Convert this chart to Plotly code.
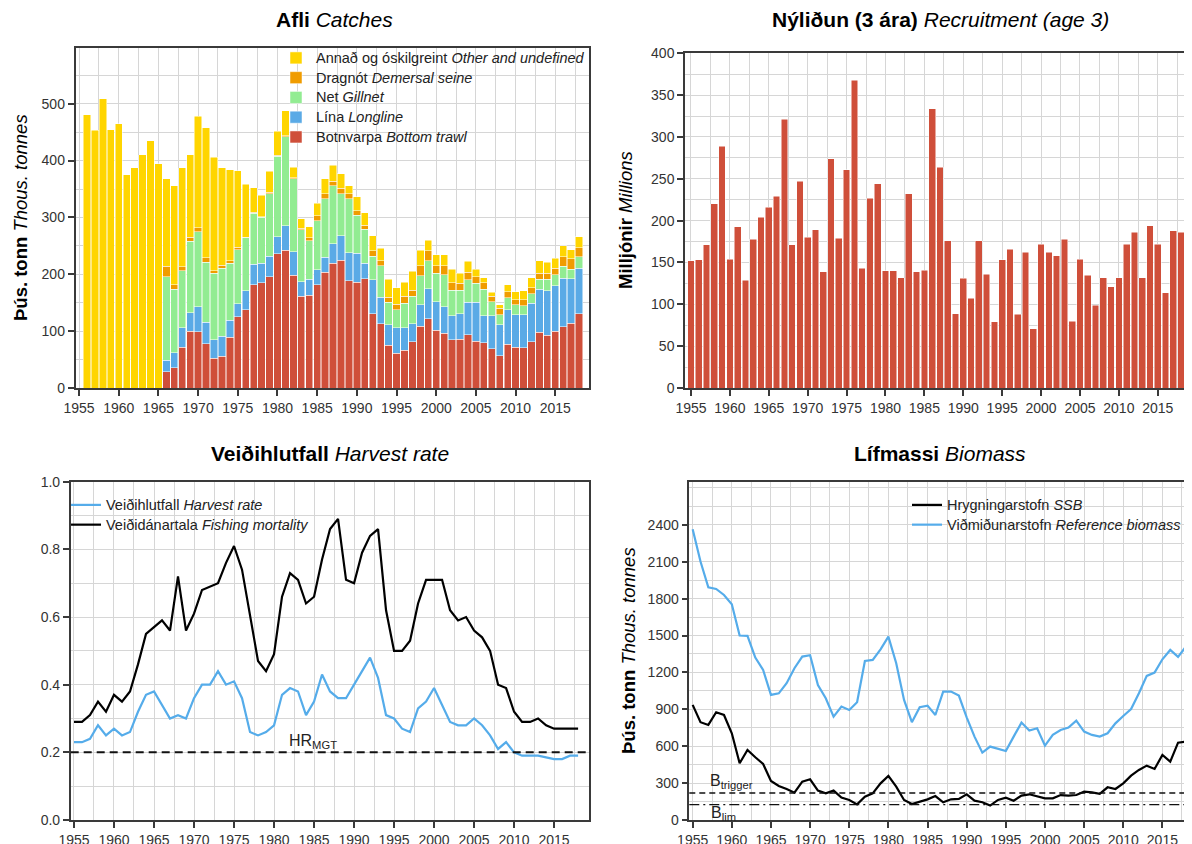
import plotly.graph_objects as go

FONT = "Liberation Sans, Arial, Helvetica, sans-serif"

# ---------------- Catches (thous. tonnes) ----------------
catch_years = list(range(1956, 2019))
_pre = [None] * 10  # 1956-1965: gear split not available
trawl = _pre + [29, 36, 72, 100, 99, 78, 52, 56, 89, 125,
                138, 182, 185, 196, 236, 242, 198, 161, 163, 182,
                204, 219, 225, 189, 186, 192, 131, 113, 75, 61,
                66, 81, 109, 122, 102, 96, 85, 86, 94, 82,
                80, 69, 57, 77, 72, 71, 81, 98, 93, 100,
                108, 114, 131]
longline = _pre + [20, 26, 34, 32, 44, 38, 33, 35, 30, 23,
                   33, 36, 34, 36, 30, 43, 42, 26, 28, 26,
                   26, 35, 43, 49, 51, 27, 59, 47, 36, 45,
                   40, 32, 37, 53, 50, 47, 42, 45, 57, 69,
                   47, 58, 54, 61, 57, 58, 68, 76, 78, 80,
                   85, 78, 80]
gillnet = _pre + [147, 112, 100, 126, 132, 105, 117, 120, 100, 95,
                  93, 89, 81, 110, 142, 157, 128, 91, 68, 86,
                  103, 102, 74, 95, 67, 60, 42, 55, 40, 32,
                  43, 48, 51, 49, 50, 56, 45, 41, 39, 33,
                  47, 25, 18, 21, 17, 16, 17, 17, 20, 19,
                  21, 17, 20]
seine = _pre + [18, 8, 7, 7, 7, 8, 4, 5, 5, 5,
                1, 2, 1, 2, 1, 2, 2, 3, 5, 9,
                9, 8, 9, 9, 8, 7, 9, 9, 9, 9,
                12, 11, 18, 17, 13, 16, 13, 12, 14, 12,
                11, 9, 11, 10, 9, 10, 10, 11, 11, 12,
                17, 18, 16]
other = [481, 453, 509, 454, 465, 375, 387, 410, 435, 394,
         154, 174, 174, 145, 196, 229, 200, 171, 160, 134,
         93, 43, 38, 37, 43, 44, 18, 17, 20, 22,
         26, 28, 26, 14, 24, 22, 27, 22, 31, 29,
         25, 33, 27, 19, 19, 19, 24, 18, 19, 13,
         9, 7, 6, 13, 14, 16, 18, 22, 19, 17,
         19, 16, 19]

# ---------------- Recruitment (millions, age 3) ----------------
rec_years = list(range(1955, 2020))
recruitment = [152, 153, 171, 220, 289, 154, 193, 129, 178, 204,
               216, 229, 321, 171, 247, 180, 189, 139, 274, 179,
               261, 368, 143, 227, 244, 140, 140, 132, 232, 139,
               141, 334, 264, 176, 89, 131, 107, 176, 136, 79,
               153, 166, 88, 162, 71, 172, 162, 158, 178, 80,
               154, 135, 99, 132, 121, 132, 172, 186, 132, 194,
               172, 114, 188, 186, 131]

# ---------------- Harvest rate / fishing mortality ----------------
hr_years = list(range(1955, 2019))
harvest_rate = [0.23, 0.23, 0.24, 0.28, 0.25, 0.27, 0.25, 0.26, 0.32, 0.37,
                0.38, 0.34, 0.30, 0.31, 0.30, 0.36, 0.40, 0.40, 0.44, 0.40,
                0.41, 0.36, 0.26, 0.25, 0.26, 0.28, 0.37, 0.39, 0.38, 0.31,
                0.35, 0.43, 0.38, 0.36, 0.36, 0.40, 0.44, 0.48, 0.42, 0.31,
                0.30, 0.27, 0.26, 0.33, 0.35, 0.39, 0.34, 0.29, 0.28, 0.28,
                0.30, 0.28, 0.25, 0.21, 0.23, 0.20, 0.19, 0.19, 0.19, 0.185,
                0.18, 0.18, 0.19, 0.19]
fishing_mortality = [0.29, 0.29, 0.31, 0.35, 0.32, 0.37, 0.35, 0.38, 0.46, 0.55,
                     0.57, 0.59, 0.56, 0.72, 0.56, 0.61, 0.68, 0.69, 0.70, 0.76,
                     0.81, 0.74, 0.60, 0.47, 0.44, 0.49, 0.66, 0.73, 0.71, 0.64,
                     0.66, 0.77, 0.86, 0.89, 0.71, 0.70, 0.79, 0.84, 0.86, 0.62,
                     0.50, 0.50, 0.53, 0.64, 0.71, 0.71, 0.71, 0.62, 0.59, 0.60,
                     0.56, 0.54, 0.50, 0.40, 0.39, 0.32, 0.29, 0.29, 0.30, 0.28,
                     0.27, 0.27, 0.27, 0.27]
HR_MGT = 0.20

# ---------------- Biomass (thous. tonnes) ----------------
bio_years = list(range(1955, 2020))
ref_biomass = [2365, 2102, 1893, 1879, 1830, 1755, 1500, 1497, 1321, 1220,
               1017, 1030, 1112, 1234, 1329, 1340, 1098, 990, 841, 922,
               895, 957, 1293, 1302, 1388, 1491, 1275, 976, 795, 917,
               930, 854, 1044, 1044, 1012, 835, 678, 548, 597, 578,
               561, 678, 792, 727, 746, 605, 692, 732, 751, 808,
               719, 692, 678, 705, 786, 846, 903, 1031, 1172, 1199,
               1307, 1383, 1326, 1410, 1400]
ssb = [936, 795, 773, 876, 854, 705, 461, 569, 510, 456,
       317, 277, 252, 222, 312, 331, 239, 217, 239, 182,
       163, 127, 190, 217, 298, 358, 271, 163, 130, 149,
       168, 195, 144, 168, 171, 209, 157, 144, 117, 163,
       182, 157, 198, 209, 190, 176, 176, 203, 198, 203,
       230, 225, 212, 266, 252, 298, 361, 407, 442, 415,
       529, 475, 629, 637, 618]
B_TRIGGER = 220
B_LIM = 125

# ---------------- colours ----------------
C_TRAWL = "#CF4F3A"
C_LONG = "#5AAAE6"
C_GILL = "#92EC92"
C_SEINE = "#F09C00"
C_OTHER = "#FFD500"
C_BLUE = "#55ACEA"

# the page places the figure 8px in from the window's top-left corner
OFF = 8
W, H = 1192 - OFF, 844 - OFF


def px_x(p):
    return (p - OFF) / W


def px_y(p):
    return 1 - (p - OFF) / H


def leg(txt):
    # legend text drawn a little larger than the row spacing font
    return '<span style="font-size:14.5px">' + txt + "</span>"


fig = go.Figure()

gear = [
    ("Botnvarpa <i>Bottom trawl</i>", trawl, C_TRAWL),
    ("Lína <i>Longline</i>", longline, C_LONG),
    ("Net <i>Gillnet</i>", gillnet, C_GILL),
    ("Dragnót <i>Demersal seine</i>", seine, C_SEINE),
    ("Annað og óskilgreint <i>Other and undefined</i>", other, C_OTHER),
]
for name, vals, col in gear:
    fig.add_trace(go.Bar(
        x=catch_years, y=vals, name=leg(name), width=0.92,
        marker=dict(color=col, line=dict(color="white", width=0.5)),
        xaxis="x", yaxis="y", legend="legend",
    ))

fig.add_trace(go.Bar(
    x=rec_years, y=recruitment, width=0.86, showlegend=False,
    marker=dict(color=C_TRAWL, line=dict(color="white", width=0.5)),
    xaxis="x2", yaxis="y2",
))

fig.add_trace(go.Scatter(
    x=hr_years, y=harvest_rate, mode="lines", name=leg("Veiðihlutfall <i>Harvest rate</i>"),
    line=dict(color=C_BLUE, width=2.2), xaxis="x3", yaxis="y3", legend="legend2",
))
fig.add_trace(go.Scatter(
    x=hr_years, y=fishing_mortality, mode="lines",
    name=leg("Veiðidánartala <i>Fishing mortality</i>"),
    line=dict(color="black", width=2.2), xaxis="x3", yaxis="y3", legend="legend2",
))

fig.add_trace(go.Scatter(
    x=bio_years, y=ssb, mode="lines", name=leg("Hrygningarstofn <i>SSB</i>"),
    line=dict(color="black", width=2.2), xaxis="x4", yaxis="y4", legend="legend3",
))
fig.add_trace(go.Scatter(
    x=bio_years, y=ref_biomass, mode="lines",
    name=leg("Viðmiðunarstofn <i>Reference biomass</i>"),
    line=dict(color=C_BLUE, width=2.2), xaxis="x4", yaxis="y4", legend="legend3",
))

GRID = "#d6d6d6"
AXC = "#3a3a3a"
TICKF = dict(family=FONT, size=14, color="#333333")
LEGF = dict(family=FONT, size=12.9, color="#222222")


def xax(dom_px, rng, anchor, mirror=True):
    return dict(
        domain=[px_x(dom_px[0]), min(1.0, px_x(dom_px[1]))], range=rng, anchor=anchor,
        automargin=False,
        tick0=1955, dtick=5, ticks="outside", ticklen=6, tickwidth=2, tickcolor=AXC,
        showline=True, linecolor=AXC, linewidth=1.5, mirror=mirror,
        showgrid=True, gridcolor=GRID, gridwidth=1.2, zeroline=False,
        minor=dict(dtick=2.5, tick0=1955, showgrid=True, gridcolor=GRID, gridwidth=1.2),
        tickfont=TICKF,
    )


def yax(dom_px, rng, anchor, dtick, minor, mirror=True, tickvals=None, fmt=None):
    d = dict(
        domain=[px_y(dom_px[1]), px_y(dom_px[0])], range=rng, anchor=anchor,
        automargin=False,
        dtick=dtick, ticks="outside", ticklen=6, tickwidth=1.5, tickcolor=AXC,
        showline=True, linecolor=AXC, linewidth=1.5, mirror=mirror,
        showgrid=True, gridcolor=GRID, gridwidth=1.2, zeroline=False,
        minor=dict(dtick=minor, tick0=0, showgrid=True, gridcolor=GRID, gridwidth=1.2),
        tickfont=TICKF,
    )
    if tickvals is not None:
        d["tickvals"] = tickvals
        d["tickmode"] = "array"
    if fmt:
        d["tickformat"] = fmt
    return d


fig.update_layout(
    template="none",
    width=W, height=H,
    margin=dict(l=0, r=0, t=0, b=0, autoexpand=False),
    paper_bgcolor="white", plot_bgcolor="white",
    font=dict(family=FONT, size=13, color="#222222"),
    barmode="stack",
    xaxis=xax((75.5, 589), [1954.55, 2019.25], "y"),
    yaxis=yax((48, 388), [0, 598], "x", 100, 50),
    xaxis2=xax((685, 1192), [1954.23, 2019.4], "y2"),
    yaxis2=yax((53.3, 388), [0, 400], "x2", 50, 25, mirror=False),
    xaxis3=xax((70.7, 589.3), [1954.59, 2019.4], "y3"),
    yaxis3=yax((481.7, 820), [0, 1.0], "x3", 0.2, 0.1, fmt=".1f"),
    xaxis4=xax((689.3, 1192), [1954.57, 2018.78], "y4"),
    yaxis4=yax((482.3, 820), [0, 2746], "x4", 300, 150, mirror=False,
               tickvals=[0, 300, 600, 900, 1200, 1500, 1800, 2100, 2400]),
    legend=dict(x=px_x(276), y=px_y(43), xanchor="left", yanchor="top",
                bgcolor="rgba(0,0,0,0)", traceorder="reversed", tracegroupgap=0,
                font=LEGF),
    legend2=dict(x=px_x(66), y=px_y(490), xanchor="left", yanchor="top",
                 bgcolor="rgba(0,0,0,0)", traceorder="normal", font=LEGF),
    legend3=dict(x=px_x(907), y=px_y(490), xanchor="left", yanchor="top",
                 bgcolor="rgba(0,0,0,0)", traceorder="normal", font=LEGF),
)

# reference lines
fig.add_shape(type="line", xref="x3 domain", yref="y3", x0=0, x1=1, y0=HR_MGT, y1=HR_MGT,
              line=dict(color="#111111", width=2, dash="8px,5px"))
fig.add_shape(type="line", xref="x4 domain", yref="y4", x0=0, x1=1, y0=B_TRIGGER, y1=B_TRIGGER,
              line=dict(color="#111111", width=1.4, dash="6px,4px"))
fig.add_shape(type="line", xref="x4 domain", yref="y4", x0=0, x1=1, y0=B_LIM, y1=B_LIM,
              line=dict(color="#111111", width=1.4, dash="10px,4px,2px,4px"))

TF = dict(family=FONT, size=21, color="black")
ann = [
    dict(text="<b>Afli</b> <i>Catches</i>", x=px_x(334), y=px_y(20)),
    dict(text="<b>Nýliðun (3 ára)</b> <i>Recruitment (age 3)</i>", x=px_x(940), y=px_y(20)),
    dict(text="<b>Veiðihlutfall</b> <i>Harvest rate</i>", x=px_x(330), y=px_y(453)),
    dict(text="<b>Lífmassi</b> <i>Biomass</i>", x=px_x(940), y=px_y(453)),
]
for a in ann:
    fig.add_annotation(xref="paper", yref="paper", showarrow=False, xanchor="center",
                       yanchor="middle", font=TF, **a)

YT = dict(family=FONT, size=18.5, color="black")
for txt, xp, yp in [
    ("<b>Þús. tonn</b> <i>Thous. tonnes</i>", 20, 218),
    ("<b>Milljónir</b> <i>Millions</i>", 625, 220),
    ("<b>Þús. tonn</b> <i>Thous. tonnes</i>", 628, 651),
]:
    fig.add_annotation(xref="paper", yref="paper", x=px_x(xp), y=px_y(yp), text=txt,
                       textangle=-90, showarrow=False, xanchor="center", yanchor="middle",
                       font=YT)

fig.add_annotation(xref="x3", yref="y3", x=1984.9, y=HR_MGT, text="HR<sub>MGT</sub>",
                   showarrow=False, yanchor="bottom", xanchor="center", yshift=-1,
                   font=dict(family=FONT, size=16, color="#222222"))
fig.add_annotation(xref="x4", yref="y4", x=1960.0, y=B_TRIGGER, text="B<sub>trigger</sub>",
                   showarrow=False, yanchor="bottom", xanchor="center", yshift=0,
                   font=dict(family=FONT, size=16, color="#222222"))
fig.add_annotation(xref="x4", yref="y4", x=1959.0, y=B_LIM, text="B<sub>lim</sub>",
                   showarrow=False, yanchor="top", xanchor="center", yshift=3,
                   font=dict(family=FONT, size=16, color="#222222"))

fig.write_html("out.html")
